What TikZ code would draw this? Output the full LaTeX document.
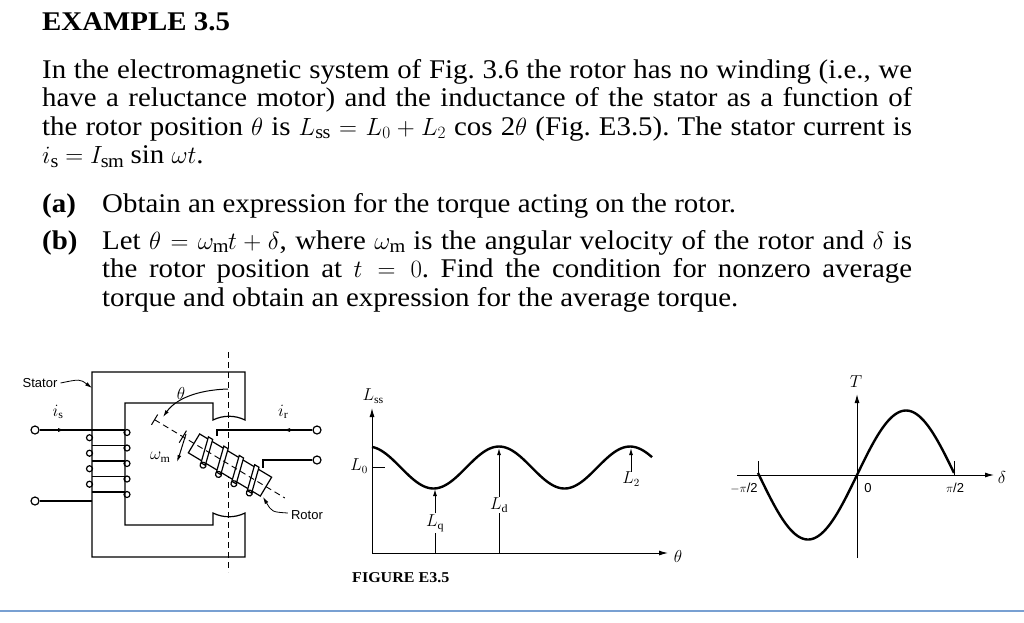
\documentclass[tikz,border=0pt]{standalone}
\usepackage{fontspec}
\setmainfont[FakeStretch=1.07]{Liberation Serif}
\newfontfamily\lsans{Liberation Sans}
\usetikzlibrary{arrows.meta}
\frenchspacing
\begin{document}
\begin{tikzpicture}[x=1pt,y=-1pt,
  txt/.style={anchor=base west,inner sep=0pt,font=\fontsize{27}{32}\selectfont},
  btxt/.style={txt,font=\bfseries\fontsize{27}{32}\selectfont},
  lab/.style={inner sep=0pt,font=\lsans\fontsize{13}{15}\selectfont},
  mlab/.style={inner sep=0pt,font=\fontsize{16}{18}\selectfont},
  ax/.style={line width=1pt,-{Latex[length=9pt,width=5pt]}},
  curve/.style={line width=2.4pt},
  wire/.style={line width=1.2pt},
  arr/.style={line width=1pt,-{Latex[length=7pt,width=4pt]}}]
\useasboundingbox (0,0) rectangle (1024,622);
% ---- text ----
\node[btxt] (title) at (42,30) {EXAMPLE 3.5};
\node[txt] (l1) at (42,78) {\makebox[870pt][s]{In the electromagnetic system of Fig. 3.6 the rotor has no winding (i.e., we}};
\node[txt] (l2) at (42,106.5) {\makebox[870pt][s]{have a reluctance motor) and the inductance of the stator as a function of}};
\node[txt] (l3) at (42,135) {\makebox[870pt][s]{the rotor position $\theta$ is $L_{\mathrm{ss}} = L_0 + L_2$ cos 2$\theta$ (Fig. E3.5). The stator current is}};
\node[txt] (l4) at (42,163.5) {$i_{\mathrm s} = I_{\mathrm{sm}}$ sin $\omega t$.};
\node[btxt] (la) at (42,212) {(a)};
\node[txt] (ta) at (102,212) {Obtain an expression for the torque acting on the rotor.};
\node[btxt] (lb) at (42,249) {(b)};
\node[txt] (tb1) at (102,249) {\makebox[810pt][s]{Let $\theta = \omega_{\mathrm m}t + \delta$, where $\omega_{\mathrm m}$ is the angular velocity of the rotor and $\delta$ is}};
\node[txt] (tb2) at (102,277.5) {\makebox[810pt][s]{the rotor position at $t = 0$. Find the condition for nonzero average}};
\node[txt] (tb3) at (102,306) {torque and obtain an expression for the average torque.};
% ---- stator ----
\draw[wire] (213,420) .. controls (223,415) and (235,415) .. (245,420) -- (245,372) -- (92,372) -- (92,557) -- (245,557) -- (245,513) .. controls (235,518) and (223,518) .. (213,513) -- (213,525) -- (125,525) -- (125,403) -- (213,403) -- cycle;
\draw[line width=0.9pt,dash pattern=on 6pt off 4pt] (228,352) -- (228,572);
% coil
\foreach \y in {430,445.5,461,476.5,492}{
  \draw[wire] (92,\y) -- (125,\y);
  \draw[wire] (127,\y+2.5) circle[radius=3];
}
\foreach \y in {437.7,453.2,468.7,484.2}{
  \draw[wire] (89.5,\y) circle[radius=3];
}
\node[draw,circle,wire,minimum size=8pt,inner sep=0pt] (c1) at (35,430) {};
\node[draw,circle,wire,minimum size=8pt,inner sep=0pt] (c2) at (35,501) {};
\coordinate (s1) at (92,430);
\coordinate (s2) at (92,501);
\draw[wire] (c1) -- (s1);
\draw[arr] (c1) -- (65,430);
\draw[wire] (c2) -- (s2);
\node[mlab] (is) at (58,412) {$i_{\mathrm s}$};
\node[lab] (stator) at (40,383) {Stator};
\coordinate (stp) at (92,388);
\draw[arr,line width=0.8pt] (stator.east) ++(3,0) .. controls (80,379) .. (stp);
% rotor
\begin{scope}[shift={(230,465)},rotate=-31]
  \draw[wire,fill=white] (-42,-11) rectangle (42,11);
  \foreach \u in {-27,-9,9,27}{
    \draw[wire,fill=white] (\u-6,-13) -- (\u-1,-13) -- (\u+6,13) -- (\u+1,13) -- cycle;
    \draw[wire] (\u+4,14) circle[radius=3];
  }
  \draw[line width=0.9pt,dash pattern=on 6pt off 4pt] (-88,0) -- (64,0);
  \draw[line width=1pt] (-88,-6) -- (-88,6);
  \draw[line width=1pt] (-55,-7) -- (-55,7);
\end{scope}
\node[draw,circle,wire,minimum size=8pt,inner sep=0pt] (c3) at (317,430) {};
\node[draw,circle,wire,minimum size=8pt,inner sep=0pt] (c4) at (317,460) {};
\coordinate (r1) at (217,430);
\coordinate (r2) at (263,460);
\draw[wire] (c3) -- (r1) -- ++(0,6);
\draw[arr] (c3) -- (283,430);
\draw[wire] (c4) -- (r2) -- ++(0,8);
\node[mlab] (ir) at (283,412) {$i_{\mathrm r}$};
% theta arc
\coordinate (th1) at (228,389);
\coordinate (th2) at (163,417);
\draw[arr] (th1) .. controls (195,390) and (175,400) .. (th2);
\node[mlab] (theta) at (181,393) {$\theta$};
\coordinate (w1) at (186,434);
\coordinate (w2) at (177,462);
\draw[arr] (w1) .. controls (183,445) .. (w2);
\node[mlab] (wm) at (160,457) {$\omega_{\mathrm m}$};
\node[lab] (rotor) at (307,515) {Rotor};
\coordinate (rt) at (263,497);
\draw[arr,line width=0.8pt] (rotor.west) ++(-3,-2) .. controls (272,512) .. (rt);
% ---- middle graph ----
\coordinate (o1) at (372,553);
\coordinate (y1) at (372,408);
\coordinate (x1) at (668,553);
\draw[ax] (o1) -- (y1);
\draw[ax] (o1) -- (x1);
\node[mlab] (lss) at (373,396) {$L_{\mathrm{ss}}$};
\node[mlab] (thx) at (678,556) {$\theta$};
\draw[curve] plot[domain=372:652,samples=120] (\x,{467.5-21*cos(2.748*(\x-368))});
\draw[line width=1pt] (372,467) -- (385,467);
\node[mlab] (l0) at (359,466) {$L_0$};
\node[mlab,fill=white,inner sep=1pt] (lq) at (435,523) {$L_{\mathrm q}$};
\draw[line width=1pt] (435,553) -- (lq.south);
\draw[arr] (lq.north) -- (435,489);
\node[mlab,fill=white,inner sep=1pt] (ld) at (499,505) {$L_{\mathrm d}$};
\draw[line width=1pt] (499,553) -- (ld.south);
\draw[arr] (ld.north) -- (499,448);
\node[mlab] (l2) at (631,479) {$L_2$};
\draw[arr] (l2.north) -- (631,448);
\node[inner sep=0pt,font=\bfseries\fontsize{15}{18}\selectfont,anchor=west] (fig) at (352,578) {FIGURE E3.5};
% ---- right graph ----
\coordinate (o2) at (857,558);
\coordinate (y2) at (857,394);
\coordinate (xl) at (737,475);
\coordinate (xr) at (994,475);
\draw[ax] (o2) -- (y2);
\draw[ax] (xl) -- (xr);
\node[mlab] (T) at (856,382) {$T$};
\node[mlab] (dl) at (1002,477) {$\delta$};
\draw[curve] plot[domain=758:954,samples=120] (\x,{475-64.5*sin(1.8367*(\x-857))});
\draw[line width=1pt] (758,461) -- (758,475);
\draw[line width=1pt] (954,461) -- (954,475);
\node[lab] (mp) at (744,488) {$-\pi$/2};
\node[lab] (zero) at (868,488) {0};
\node[lab] (pp) at (955,488) {$\pi$/2};
% bottom rule
\draw[line width=2pt,color={rgb,255:red,120;green,160;blue,210}] (0,611) -- (1024,611);
\end{tikzpicture}
\end{document}
